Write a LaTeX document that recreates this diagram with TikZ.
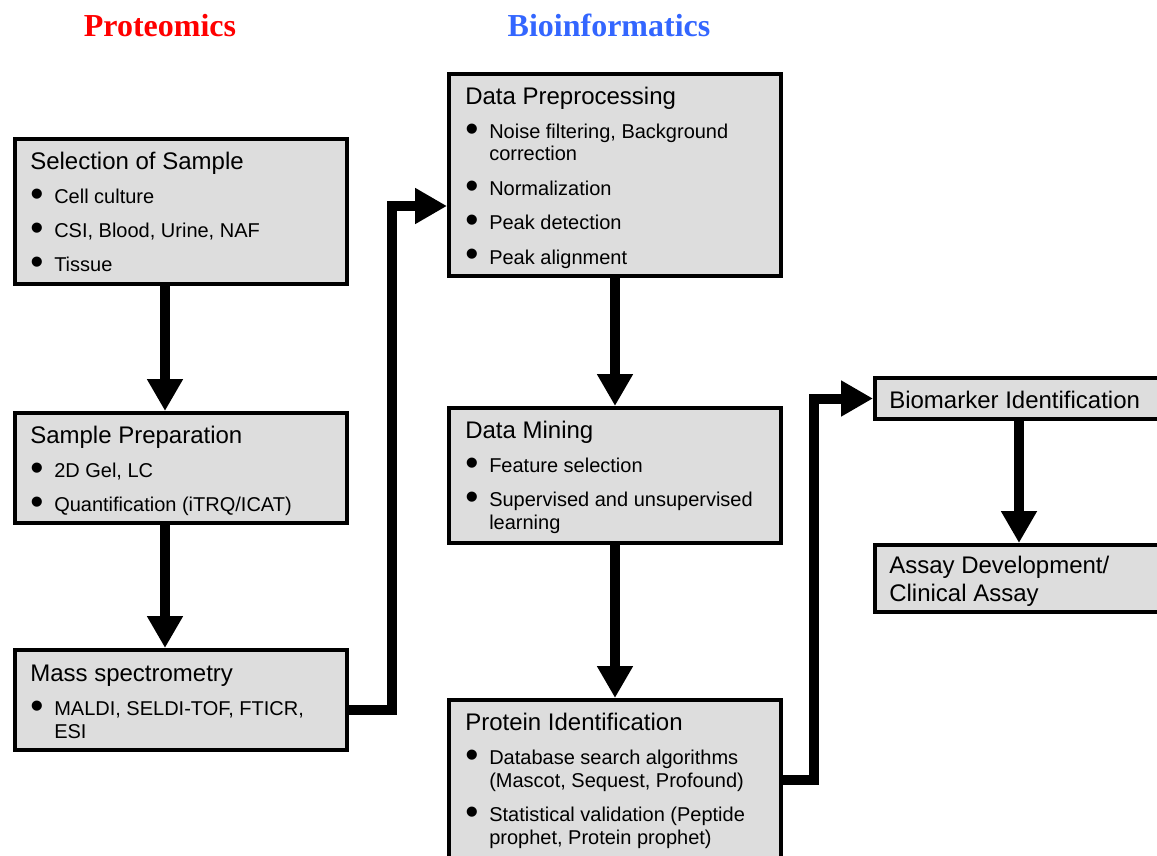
\documentclass[tikz,border=0pt]{standalone}
\usepackage{fontspec}
\setmainfont{Liberation Sans}
\newfontfamily\headfont{Liberation Serif}
\usetikzlibrary{arrows.meta}

\definecolor{protred}{RGB}{255,0,0}
\definecolor{bioblue}{RGB}{51,102,255}
\definecolor{panelgray}{RGB}{221,221,221}

% box contents: a title and bullet items
\newcommand{\ttl}[1]{{\fontsize{18}{21}\selectfont #1\par}}
\newcommand{\bul}{\raisebox{-2.2pt}{\fontsize{28}{28}\selectfont\textbullet}}
\newcommand{\itm}[1]{\par\vskip8.75pt\hangindent=18pt\hangafter=1\noindent
  \makebox[18pt][l]{\bul}#1\par}
\newcommand{\boxtext}[2]{\parbox[t]{240pt}{\raggedright\ttl{#1}\fontsize{15}{17}\selectfont #2}}

\begin{document}
\begin{tikzpicture}
[x=0.75pt,y=-0.75pt,
 panel/.style={rectangle,draw=black,fill=panelgray,line width=3pt,inner sep=0pt,anchor=north west},
 txt/.style={inner sep=0pt,anchor=base west},
 head/.style={inner sep=0pt,anchor=base,font=\headfont\bfseries\fontsize{24}{28}\selectfont},
 flow/.style={line width=7.5pt,-{Triangle[length=24pt,width=25.5pt]}}]
\useasboundingbox (0,0) rectangle (1157,856);

% headings
\node[head,text=protred] (hprot) at (160,37) {Proteomics};
\node[head,text=bioblue] (hbio) at (609,37) {Bioinformatics};

% boxes: name/left/top/width/height in pixels
\foreach \nm/\x/\y/\w/\h in {sel/13/137/336/149, prep/13/411/336/114, mass/13/648/336/104,
  pre/447/72/336/206, mine/447/406/336/139, prot/447/698/336/164,
  bio/873/376/292/45, assay/873/543/292/71}
{
  \node[panel,minimum width=\w*0.75pt-3pt,minimum height=\h*0.75pt-3pt] (\nm) at (\x,\y) {};
}

% texts
\node[txt] (selT) at ([shift={(17,32)}]sel.north west)
  {\boxtext{Selection of Sample}{\itm{Cell culture}\itm{CSI, Blood, Urine, NAF}\itm{Tissue}}};
\node[txt] (prepT) at ([shift={(17,32)}]prep.north west)
  {\boxtext{Sample Preparation}{\itm{2D Gel, LC}\itm{Quantification (iTRQ/ICAT)}}};
\node[txt] (massT) at ([shift={(17,33)}]mass.north west)
  {\boxtext{Mass spectrometry}{\itm{MALDI, SELDI-TOF, FTICR,\newline ESI}}};
\node[txt] (preT) at ([shift={(18,32)}]pre.north west)
  {\boxtext{Data Preprocessing}{\itm{Noise filtering, Background\newline correction}\itm{Normalization}\itm{Peak detection}\itm{Peak alignment}}};
\node[txt] (mineT) at ([shift={(18,32)}]mine.north west)
  {\boxtext{Data Mining}{\itm{Feature selection}\itm{Supervised and unsupervised\newline learning}}};
\node[txt] (protT) at ([shift={(18,32)}]prot.north west)
  {\boxtext{Protein Identification}{\itm{Database search algorithms\newline (Mascot, Sequest, Profound)}\itm{Statistical validation (Peptide\newline prophet, Protein prophet)}}};
\node[txt] (bioT) at ([shift={(16,32)}]bio.north west)
  {\boxtext{Biomarker Identification}{}};
\node[txt] (assayT) at ([shift={(16,30)}]assay.north west)
  {\boxtext{Assay Development/\\Clinical Assay}{}};

% arrows
\draw[flow] ([xshift=-12pt]sel.south) -- ([xshift=-12pt]prep.north);
\draw[flow] ([xshift=-12pt]prep.south) -- ([xshift=-12pt]mass.north);
\draw[flow] ([yshift=-7.5pt]mass.east) -- ++(43,0) |- ([yshift=-23.25pt]pre.west);
\draw[flow] (pre.south) -- (mine.north);
\draw[flow] (mine.south) -- (prot.north);
\draw[flow] (prot.east) -- ++(31,0) |- (bio.west);
\draw[flow] (bio.south) -- (assay.north);
\end{tikzpicture}
\end{document}
